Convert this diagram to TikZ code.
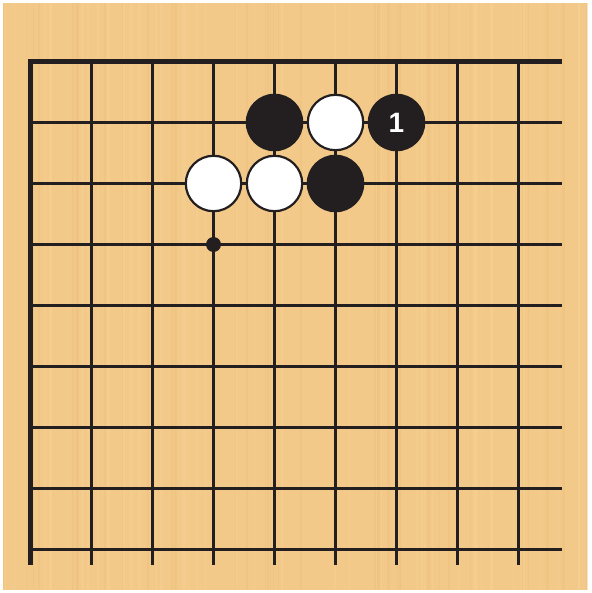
\documentclass[tikz,border=0pt]{standalone}
\usepackage{fontspec}
\newfontfamily\stonefont{Liberation Sans}
\usepackage{xcolor}
\usepackage{tikz}
\definecolor{boardtan}{RGB}{243,201,137}
\definecolor{grainlight}{RGB}{246,209,148}
\definecolor{graindark}{RGB}{236,191,125}
\definecolor{inkblack}{RGB}{35,31,32}

\begin{document}
\begin{tikzpicture}[x=61pt, y=-61pt,
      gridline/.style={draw=inkblack, line width=3.6pt},
      edgeline/.style={draw=inkblack, line width=5pt, line join=miter},
      blackstone/.style={circle, fill=inkblack, minimum size=57.6pt, inner sep=0pt},
      whitestone/.style={circle, draw=inkblack, fill=white, line width=2.2pt,
        minimum size=55.4pt, inner sep=0pt},
      hoshi/.style={circle, fill=inkblack, minimum size=15pt, inner sep=0pt}]
      \useasboundingbox (-0.5, -1.008) rectangle (9.189, 8.713);
      \fill[boardtan] (-0.451, -0.959) rectangle (9.123, 8.664);
      % wood grain
      \pgfmathsetseed{7}
      \foreach \k in {1,...,90} {
        \pgfmathsetmacro{\gx}{-0.45 + 9.57*rnd}
        \pgfmathsetmacro{\gw}{0.5 + 2.5*rnd}
        \pgfmathparse{rnd > 0.5 ? 1 : 0}
        \ifnum\pgfmathresult=1
          \fill[graindark, opacity=0.4] (\gx, -0.959) rectangle ++(\gw pt, 9.623);
        \else
          \fill[grainlight, opacity=0.5] (\gx, -0.959) rectangle ++(\gw pt, 9.623);
        \fi
      }
      % grid
      \foreach \r in {1,...,8}
        \draw[gridline] (0, \r) -- (8.713, \r);
      \foreach \c in {1,...,8}
        \draw[gridline] (\c, 0) -- (\c, 8.25);
      \draw[edgeline] (0, 8.25) -- (0, 0) -- (8.713, 0);
      % stones
      \node[hoshi] (star) at (3, 3) {};
      \node[blackstone] (b1) at (4, 1) {};
      \node[whitestone] (w1) at (5, 1) {};
      \node[blackstone] (b2) at (6, 1)
        {\color{white}\stonefont\bfseries\fontsize{28}{28}\selectfont 1};
      \node[whitestone] (w2) at (3, 2) {};
      \node[whitestone] (w3) at (4, 2) {};
      \node[blackstone] (b3) at (5, 2) {};
    \end{tikzpicture}
\end{document}
